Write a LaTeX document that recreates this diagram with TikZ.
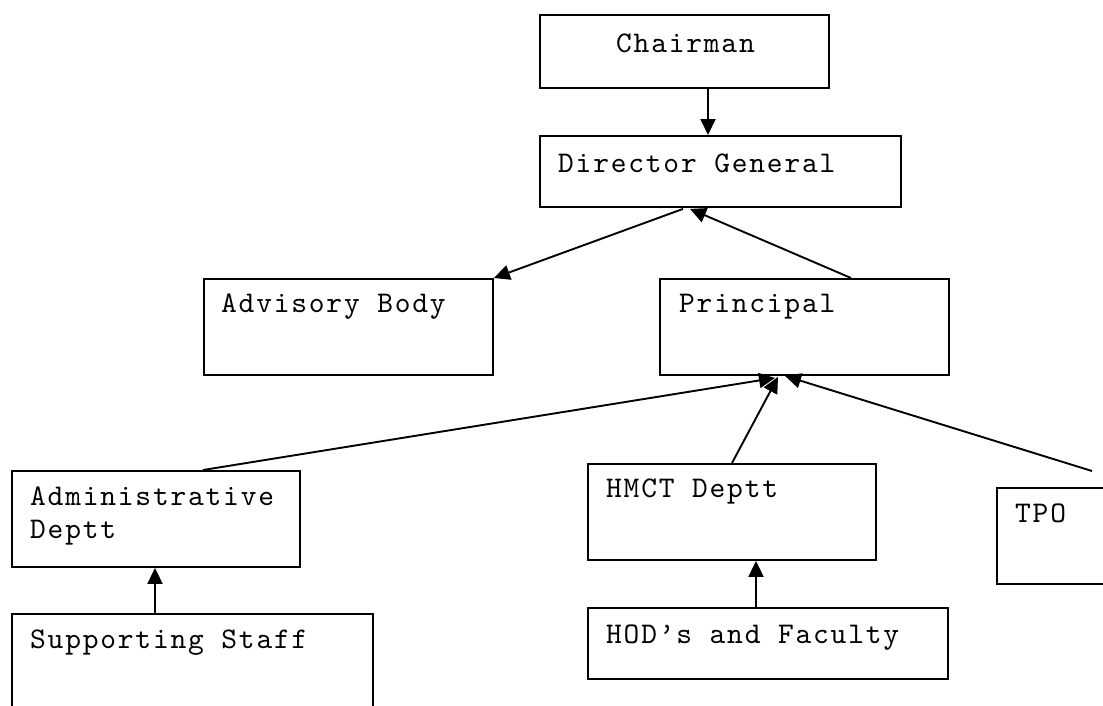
\documentclass[tikz,border=0pt]{standalone}
\usepackage{fontspec}
\newfontfamily\courfont{lmmono10-regular.otf}[LetterSpace=6]
\usetikzlibrary{arrows.meta,calc}
\tikzset{
  box/.style={draw, line width=1.9pt, rectangle, inner sep=0pt, anchor=north west},
  lbl/.style={anchor=base west, inner sep=0pt, font=\courfont\fontsize{30}{33}\selectfont, align=left},
  conn/.style={line width=1.9pt, -{Triangle[length=16pt,width=15pt]}}
}
\begin{document}
\begin{tikzpicture}[x=1pt,y=-1pt]
\useasboundingbox (0,0) rectangle (1103,705);
\clip (0,0) rectangle (1103,705);
% boxes
\node[box, minimum width=289pt, minimum height=73pt] (chair) at (539,14) {};
\node[box, minimum width=361pt, minimum height=71pt] (dg) at (539,135) {};
\node[box, minimum width=289pt, minimum height=96pt] (adv) at (203,278) {};
\node[box, minimum width=289pt, minimum height=96pt] (prin) at (659,278) {};
\node[box, minimum width=288pt, minimum height=96pt] (admin) at (11,470) {};
\node[box, minimum width=288pt, minimum height=96pt] (hmct) at (587,463) {};
\node[box, minimum width=140pt, minimum height=96pt] (tpo) at (996,487) {};
\node[box, minimum width=361pt, minimum height=120pt] (supp) at (11,613) {};
\node[box, minimum width=360pt, minimum height=71pt] (hod) at (587,607) {};
% labels
\node[lbl] (tchair) at (616,52) {Chairman};
\node[lbl] (tdg) at (558,172) {Director General};
\node[lbl] (tadv) at (221,312) {Advisory Body};
\node[lbl] (tprin) at (679,312) {Principal};
\node[lbl] (tadm1) at (30,505) {Administrative};
\node[lbl] (tadm2) at (30,538) {Deptt};
\node[lbl] (thmct) at (606,497) {HMCT Deptt};
\node[lbl] (ttpo) at (1015,522) {TPO};
\node[lbl] (tsupp) at (30,648) {Supporting Staff};
\node[lbl] (thod) at (606,643) {HOD’s and Faculty};
% connector points
\coordinate (tpoend) at ($(tpo.north west)+(96,-16)$);
% connectors
\draw[conn] ($(chair.south west)+(169,0)$) -- ($(dg.north west)+(169,0)$);
\draw[conn] ($(dg.south west)+(144,1)$) -- ($(adv.north east)+(0,0)$);
\draw[conn] ($(prin.north west)+(192,0)$) -- ($(dg.south west)+(151,1)$);
\draw[conn] ($(admin.north west)+(192,0)$) -- ($(prin.south west)+(116,2)$);
\draw[conn] ($(hmct.north west)+(145,0)$) -- ($(prin.south west)+(119,1)$);
\draw[conn] (tpoend) -- ($(prin.south west)+(126,0)$);
\draw[conn] ($(supp.north west)+(144,0)$) -- ($(admin.south west)+(144,0)$);
\draw[conn] ($(hod.north west)+(169,0)$) -- ($(hmct.south west)+(169,0)$);
\end{tikzpicture}
\end{document}
